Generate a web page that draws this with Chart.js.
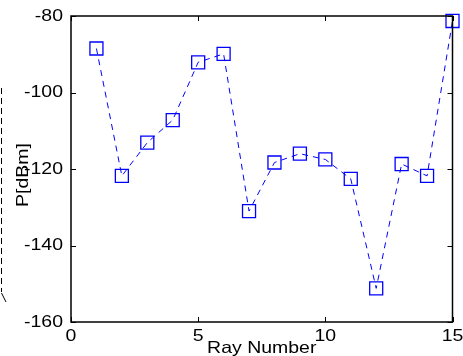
<!DOCTYPE html>
<html><head><meta charset="utf-8">
<script src="https://cdn.jsdelivr.net/npm/chart.js@4/dist/chart.umd.min.js"></script>
<style>html,body{margin:0;padding:0;background:#fff;}#wrap{width:463px;height:356px;position:relative;}</style>
</head><body><div id="wrap"><canvas id="c" width="463" height="356"></canvas></div>
<script>
const rays = [1,2,3,4,5,6,7,8,9,10,11,12,13,14,15];
const power = [-88.5,-121.8,-113.1,-107.2,-92.1,-89.9,-131.0,-118.3,-116.0,-117.5,-122.6,-151.2,-118.7,-121.8,-81.3];
const xTicks = [0,5,10,15];
const yTicks = [-160,-140,-120,-100,-80];
const xTitle = 'Ray Number';
const yTitle = 'P[dBm]';

const FONT = '16.5px "Liberation Sans", Arial, sans-serif';
const SX = 1.18;
function sText(ctx, s, x, y, align, base){
  ctx.save();
  ctx.translate(x, y);
  ctx.scale(SX, 1);
  ctx.font = FONT; ctx.fillStyle = '#000';
  ctx.textAlign = align; ctx.textBaseline = base;
  ctx.fillText(s, 0, 0);
  ctx.restore();
}
const deco = {
  id: 'deco',
  afterDraw(chart){
    const ctx = chart.ctx, a = chart.chartArea;
    const xs = chart.scales.x, ys = chart.scales.y;
    ctx.save();
    ctx.strokeStyle = '#000'; ctx.lineWidth = 1.5;
    ctx.strokeRect(a.left, a.top, a.right - a.left, a.bottom - a.top);
    ctx.lineWidth = 1;
    ctx.beginPath();
    xTicks.forEach(v => { const p = Math.round(xs.getPixelForValue(v)) + 0.5;
      ctx.moveTo(p, a.bottom); ctx.lineTo(p, a.bottom - 5);
      ctx.moveTo(p, a.top); ctx.lineTo(p, a.top + 5); });
    yTicks.forEach(v => { const p = Math.round(ys.getPixelForValue(v)) + 0.5;
      ctx.moveTo(a.left, p); ctx.lineTo(a.left + 5, p);
      ctx.moveTo(a.right, p); ctx.lineTo(a.right - 5, p); });
    ctx.stroke();
    xTicks.forEach(v => sText(ctx, String(v), xs.getPixelForValue(v), a.bottom + 6, 'center', 'top'));
    yTicks.forEach(v => sText(ctx, String(v), a.left - 8 - 0, ys.getPixelForValue(v), 'right', 'middle'));
    // fix right-aligned scaled text: draw handled via translate at right edge
    sText(ctx, xTitle, (a.left + a.right) / 2, 353, 'center', 'alphabetic');
    ctx.save();
    ctx.translate(28, 175);
    ctx.rotate(-Math.PI / 2);
    ctx.scale(SX, 1);
    ctx.font = FONT; ctx.fillStyle = '#000'; ctx.textAlign = 'center'; ctx.textBaseline = 'alphabetic';
    ctx.fillText(yTitle, 0, 0);
    ctx.restore();
    // stray dashed line at far left
    ctx.strokeStyle = '#000'; ctx.lineWidth = 1; ctx.setLineDash([6, 4]);
    ctx.beginPath(); ctx.moveTo(1.5, 88); ctx.lineTo(1.5, 292); ctx.stroke();
    ctx.setLineDash([]);
    ctx.beginPath(); ctx.moveTo(1.5, 293); ctx.lineTo(6, 302); ctx.stroke();
    ctx.restore();
  }
};

new Chart(document.getElementById('c'), {
  type: 'line',
  data: { datasets: [{
    data: rays.map((r, i) => ({x: r, y: power[i]})),
    borderColor: '#0000ff', borderWidth: 1, borderDash: [6, 5],
    pointStyle: 'rect', pointRadius: 9.2, pointBorderColor: '#0000ff',
    pointBackgroundColor: 'rgba(0,0,0,0)', pointBorderWidth: 1.3,
    tension: 0, fill: false, clip: false
  }]},
  options: {
    responsive: false, animation: false, devicePixelRatio: 1,
    layout: { padding: { left: 0, right: 10, top: 16, bottom: 0 } },
    plugins: { legend: { display: false }, tooltip: { enabled: false } },
    scales: {
      x: { type: 'linear', min: 0, max: 15,
        ticks: { display: false, stepSize: 5 },
        grid: { display: false, drawTicks: false }, border: { display: false },
        afterFit(s){ s.height = 34; } },
      y: { min: -160, max: -80,
        ticks: { display: false, stepSize: 20 },
        grid: { display: false, drawTicks: false }, border: { display: false },
        afterFit(s){ s.width = 71; } }
    }
  },
  plugins: [deco]
});
</script></body></html>
